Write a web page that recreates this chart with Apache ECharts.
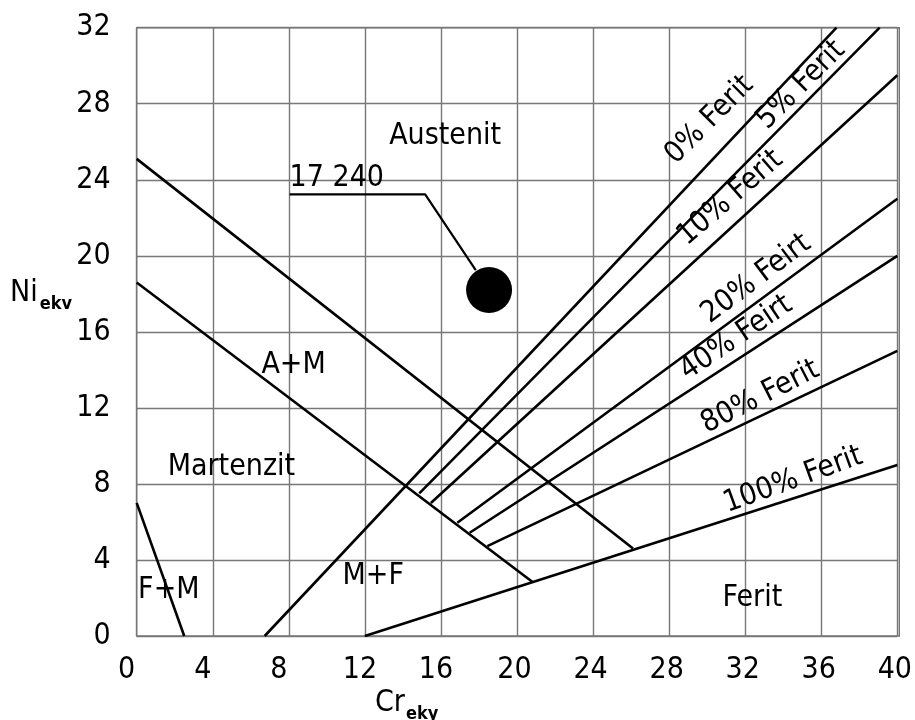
<!DOCTYPE html>
<html>
<head>
<meta charset="utf-8">
<script src="https://cdn.jsdelivr.net/npm/echarts@6/dist/echarts.min.js"></script>
<style>html,body{margin:0;padding:0;background:#fff}#c{width:915px;height:720px}</style>
</head>
<body>
<div id="c"></div>
<script>
// Axis ticks
const xTicks = [0, 4, 8, 12, 16, 20, 24, 28, 32, 36, 40];
const yTicks = [0, 4, 8, 12, 16, 20, 24, 28, 32];

// Phase boundary lines [Cr_ekv, Ni_ekv]
const lineFM = [[0, 7], [2.5, 0]];
const lineMartA = [[0, 18.6], [20.8, 2.85]];
const lineAM = [[0, 25.1], [26.1, 4.6]];
const ferrite0 = [[6.73, 0], [36.8, 32]];
const ferrite5 = [[14.86, 7.5], [39.07, 32]];
const ferrite10 = [[15.47, 7.0], [40, 29.5]];
const ferrite20 = [[16.86, 5.96], [40, 23]];
const ferrite40 = [[17.51, 5.43], [40, 20]];
const ferrite80 = [[18.44, 4.73], [40, 15]];
const ferrite100 = [[12, 0], [40, 9]];

// Steel 17 240
const steelPoint = [[18.53, 18.2]];
const leader = [[8.04, 23.23], [15.17, 23.23], [17.83, 19.25]];
const steelLabel = ['17 240', 8.04, 24.1];

// Region and line labels: [text, x, y, angle]
const regionLabels = [
  ['Austenit', 16.22, 26.27, 0],
  ['A+M', 8.25, 14.25, 0],
  ['Martenzit', 4.98, 8.9, 0],
  ['F+M', 1.69, 2.42, 0],
  ['M+F', 12.44, 3.16, 0],
  ['Ferit', 32.38, 2.0, 0],
  ['0% Ferit', 30.12, 27.14, 45],
  ['5% Ferit', 34.94, 28.98, 45],
  ['10% Ferit', 31.22, 23.04, 41],
  ['20% Feirt', 32.58, 18.78, 37],
  ['40% Feirt', 31.53, 15.68, 34],
  ['80% Ferit', 32.79, 12.57, 27],
  ['100% Ferit', 34.52, 8.2, 20]
];

const FONT = '"Liberation Sans Narrow", "DejaVu Sans Condensed", "Noto Sans", sans-serif';
const lineSeries = [lineFM, lineMartA, lineAM, ferrite0, ferrite5, ferrite10, ferrite20, ferrite40, ferrite80, ferrite100].map(d => ({
  type: 'line', data: d, symbol: 'none', silent: true, animation: false,
  lineStyle: {color: '#000', width: 2.6}, z: 3
}));

const tickStyle = {fontFamily: FONT, fontSize: 30, color: '#000'};
const chart = echarts.init(document.getElementById('c'), null, {renderer: 'canvas'});
chart.setOption({
  animation: false,
  backgroundColor: '#fff',
  grid: {left: 136.7, right: 15.7, top: 27.7, bottom: 84, containLabel: false},
  xAxis: {
    type: 'value', min: 0, max: 40, interval: 4,
    axisLine: {show: false}, axisTick: {show: false},
    splitLine: {show: true, lineStyle: {color: '#777', width: 1.4}},
    axisLabel: {fontFamily: FONT, fontSize: 30, color: '#000', margin: 19,
      formatter: v => {
        if (!xTicks.includes(v)) return '';
        if (v < 10) return '{s|' + v + '}';
        if (v < 20) return '{m|' + v + '}';
        return '{l|' + v + '}';
      },
      rich: {
        s: Object.assign({padding: [0, 20, 0, 0]}, tickStyle),
        m: Object.assign({padding: [0, 10, 0, 0]}, tickStyle),
        l: Object.assign({padding: [0, 5, 0, 0]}, tickStyle)
      }}
  },
  yAxis: {
    type: 'value', min: 0, max: 32, interval: 4,
    axisLine: {show: false}, axisTick: {show: false},
    splitLine: {show: true, lineStyle: {color: '#777', width: 1.4}},
    axisLabel: {fontFamily: FONT, fontSize: 30, color: '#000', margin: 26,
      formatter: v => yTicks.includes(v) ? String(v) : ''}
  },
  graphic: [
    {type: 'rect', shape: {x: 136.7, y: 27.7, width: 762.6, height: 608.3}, style: {fill: 'none', stroke: '#777', lineWidth: 1.4}, z: 1},
    {type: 'text', left: 10, top: 278, style: {
      text: '{a|Ni}{b|ekv}', fontFamily: FONT,
      rich: {a: {fontSize: 30, fontFamily: FONT, fill: '#000'}, b: {fontSize: 18, fontFamily: FONT, fontWeight: 'bold', fill: '#000', padding: [22, 0, 0, 2]}}
    }},
    {type: 'text', left: 375, top: 688, style: {
      text: '{a|Cr}{b|eky}', fontFamily: FONT,
      rich: {a: {fontSize: 30, fontFamily: FONT, fill: '#000'}, b: {fontSize: 18, fontFamily: FONT, fontWeight: 'bold', fill: '#000', padding: [22, 0, 0, 1]}}
    }}
  ],
  series: [
    ...lineSeries,
    {type: 'line', data: leader, symbol: 'none', silent: true, lineStyle: {color: '#000', width: 2.2}, z: 3},
    {type: 'scatter', data: steelPoint, symbol: 'circle', symbolSize: 46, itemStyle: {color: '#000', opacity: 1}, z: 4, silent: true},
    {type: 'scatter', symbolSize: 0, silent: true, z: 5, clip: false, itemStyle: {opacity: 1},
      data: [{value: [steelLabel[1], steelLabel[2]], label: {show: true, formatter: steelLabel[0], position: 'inside', align: 'left', fontSize: 30, fontFamily: FONT, color: '#000'}}]},
    {type: 'scatter', symbolSize: 0, silent: true, z: 5, clip: false, itemStyle: {opacity: 1},
      data: regionLabels.map(r => ({value: [r[1], r[2]], label: {show: true, formatter: r[0], rotate: r[3], position: 'inside', fontSize: 30, fontFamily: FONT, color: '#000'}}))}
  ]
});
</script>
</body>
</html>
